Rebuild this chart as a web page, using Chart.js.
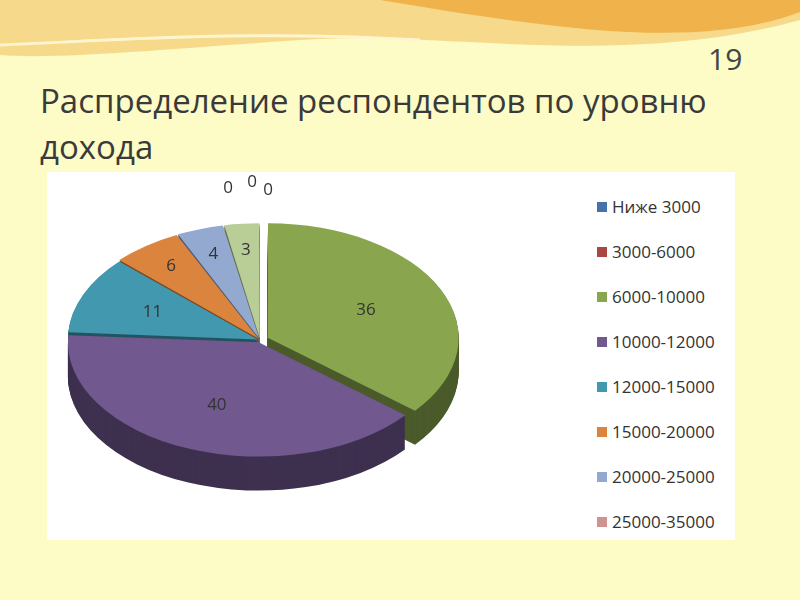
<!DOCTYPE html>
<html>
<head>
<meta charset="utf-8">
<script src="https://cdn.jsdelivr.net/npm/chart.js@4"></script>
<style>
  body { margin: 0; width: 800px; height: 600px; background: #fdfbc6; font-family: "Open Sans", "DejaVu Sans", sans-serif; position: relative; overflow: hidden; }
  #swoosh { position: absolute; left: 0; top: 0; }
  #num { position: absolute; left: 708px; top: 38px; font-size: 30px; color: #444; }
  #title { position: absolute; left: 40px; top: 78px; font-size: 33px; line-height: 46px; color: #3a3a3a; }
  #box { position: absolute; left: 47px; top: 172px; width: 688px; height: 368px; background: #fff; }
  #wrap { position: absolute; left: 40px; top: 120px; width: 440px; height: 440px; }
  #legend { position: absolute; left: 597px; top: 195px; font-family: "Open Sans", sans-serif; font-size: 17px; color: #333; }
  #legend div { height: 45px; display: flex; align-items: flex-start; }
  #legend span { display: inline-block; width: 10px; height: 10px; margin: 7px 5px 0 0; }
</style>
</head>
<body>
<svg id="swoosh" width="800" height="80">
  <path d="M0,0 L800,0 L800,20 C620,70 450,30 300,40 C180,48 60,60 0,55 Z" fill="#f6d98a"/>
  <path d="M380,0 L800,0 L800,12 C700,50 560,30 380,0 Z" fill="#f0b24a"/>
  <path d="M0,45 C120,40 250,30 420,40" stroke="#fff6d0" stroke-width="3" fill="none"/>
</svg>
<div id="num">19</div>
<div id="title">Распределение респондентов по уровню<br>дохода</div>
<div id="box"></div>
<div id="wrap"><canvas id="pie" width="440" height="440"></canvas></div>
<div id="legend"></div>
<script>
const categories = ['Ниже 3000', '3000-6000', '6000-10000', '10000-12000', '12000-15000',
                    '15000-20000', '20000-25000', '25000-35000', 'Выше 35000'];
const values = [0, 0, 36, 40, 11, 6, 4, 0, 3];
const colors = ['#4572a7', '#aa4643', '#89a54e', '#71588f', '#4198af', '#db843d', '#93a9cf', '#d19392', '#b9cd96'];
const legendCount = 8;

const FLAT = 0.6, DEPTH = 34;
// where the three zero labels sit relative to the pie top
const zeroSpots = { 0: [-32, -38], 1: [-8, -44], 7: [8, -36] };

function darken(hex, f) {
  const n = parseInt(hex.slice(1), 16);
  const r = Math.round((n >> 16) * f), g = Math.round(((n >> 8) & 255) * f), b = Math.round((n & 255) * f);
  return `rgb(${r},${g},${b})`;
}

// flatten the pie into an ellipse and give it a dark side
const tiltPlugin = {
  id: 'tilt',
  beforeDatasetsDraw(chart) {
    const ctx = chart.ctx;
    const arcs = chart.getDatasetMeta(0).data;
    const cy = arcs[0].y;
    ctx.save();
    ctx.translate(0, cy);
    ctx.scale(1, FLAT);
    ctx.translate(0, -cy);
    for (let d = DEPTH; d > 0; d -= 1) {
      ctx.save();
      ctx.translate(0, d / FLAT);
      arcs.forEach((arc, i) => {
        if (!values[i]) return;
        const o = arc.options;
        const bg = o.backgroundColor, bc = o.borderColor;
        o.backgroundColor = darken(colors[i], 0.55);
        o.borderColor = darken(colors[i], 0.55);
        arc.draw(ctx);
        o.backgroundColor = bg; o.borderColor = bc;
      });
      ctx.restore();
    }
  },
  afterDatasetsDraw(chart) {
    const ctx = chart.ctx;
    ctx.restore();
    const arcs = chart.getDatasetMeta(0).data;
    const cy = arcs[0].y;
    const top = cy - arcs[0].outerRadius * FLAT;
    ctx.save();
    ctx.font = '17px "Open Sans", sans-serif';
    ctx.fillStyle = '#333';
    ctx.textAlign = 'center';
    ctx.textBaseline = 'middle';
    arcs.forEach((arc, i) => {
      let x, y;
      if (values[i]) {
        const mid = (arc.startAngle + arc.endAngle) / 2;
        const r = arc.outerRadius * (values[i] < 10 ? 0.8 : 0.62);
        x = arc.x + Math.cos(mid) * r;
        y = cy + (arc.y - cy + Math.sin(mid) * r) * FLAT;
      } else {
        x = arc.x + zeroSpots[i][0];
        y = top + zeroSpots[i][1];
      }
      ctx.fillText(String(values[i]), x, y);
    });
    ctx.restore();
  }
};

new Chart(document.getElementById('pie'), {
  type: 'pie',
  data: {
    labels: categories,
    datasets: [{
      data: values,
      backgroundColor: colors,
      borderWidth: 0,
      offset: [0, 0, 34, 16, 10, 12, 12, 0, 12]
    }]
  },
  options: {
    responsive: false,
    animation: false,
    layout: { padding: 14 },
    plugins: { legend: { display: false }, tooltip: { enabled: false } }
  },
  plugins: [tiltPlugin]
});

document.getElementById('legend').innerHTML = categories.slice(0, legendCount)
  .map((c, i) => `<div><span style="background:${colors[i]}"></span>${c}</div>`).join('');
</script>
</body>
</html>
